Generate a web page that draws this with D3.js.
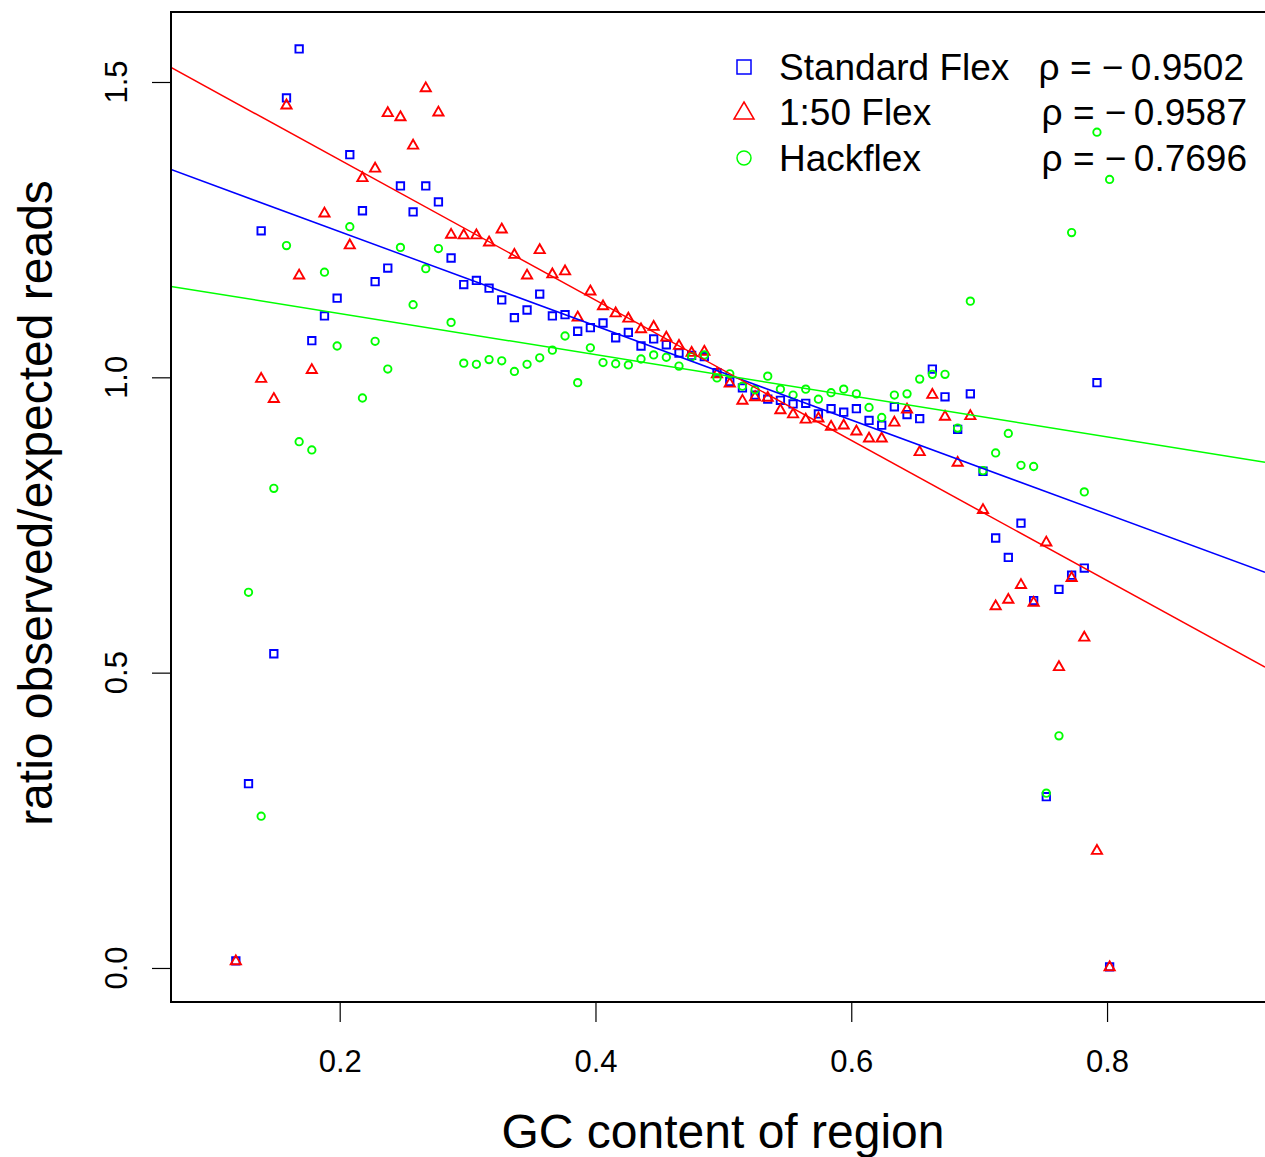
<!DOCTYPE html>
<html lang="en">
<head>
<meta charset="UTF-8">
<title>GC content vs observed/expected reads</title>
<script src="https://d3js.org/d3.v7.min.js"></script>
<style>
  body { margin: 0; background: #fff; }
  svg { display: block; font-family: "Liberation Sans", Arial, Helvetica, sans-serif; }
</style>
</head>
<body>
<svg width="1265" height="1157"></svg>
<script>
// GC content of each region (x)
const gc = [0.1188, 0.1287, 0.1386, 0.1485, 0.1584, 0.1683, 0.1782, 0.1881, 0.1980, 0.2079,
            0.2178, 0.2277, 0.2376, 0.2475, 0.2574, 0.2673, 0.2772, 0.2871, 0.2970, 0.3069,
            0.3168, 0.3267, 0.3366, 0.3465, 0.3564, 0.3663, 0.3762, 0.3861, 0.3960, 0.4059,
            0.4158, 0.4257, 0.4356, 0.4455, 0.4554, 0.4653, 0.4752, 0.4851, 0.4950, 0.5050,
            0.5149, 0.5248, 0.5347, 0.5446, 0.5545, 0.5644, 0.5743, 0.5842, 0.5941, 0.6040,
            0.6139, 0.6238, 0.6337, 0.6436, 0.6535, 0.6634, 0.6733, 0.6832, 0.6931, 0.7030,
            0.7129, 0.7228, 0.7327, 0.7426, 0.7525, 0.7624, 0.7723, 0.7822, 0.7921, 0.8020];

// ratio observed/expected reads, one per gc value (null = no point)
const standardFlex = [0.012, 0.312, 1.248, 0.532, 1.473, 1.556, 1.062, 1.104, 1.134, 1.377,
                      1.282, 1.162, 1.185, 1.324, 1.280, 1.324, 1.297, 1.202, 1.157, 1.164,
                      1.151, 1.131, 1.101, 1.114, 1.141, 1.104, 1.106, 1.078, 1.084, 1.092,
                      1.067, 1.076, 1.053, 1.065, 1.055, 1.041, 1.037, 1.035, 1.008, 0.993,
                      0.982, 0.970, 0.963, 0.961, 0.955, 0.956, 0.938, 0.947, 0.941, 0.947,
                      0.927, 0.919, 0.950, 0.937, 0.930, 1.014, 0.967, 0.912, 0.972, 0.841,
                      0.728, 0.695, 0.753, 0.622, 0.290, 0.641, 0.665, 0.677, 0.991, 0.002];

const flex150 = [0.012, null, 0.998, 0.964, 1.461, 1.173, 1.013, 1.278, null, 1.224,
                 1.338, 1.354, 1.448, 1.441, 1.393, 1.490, 1.449, 1.242, 1.241, 1.241,
                 1.229, 1.251, 1.208, 1.173, 1.216, 1.175, 1.180, 1.102, 1.146, 1.121,
                 1.109, 1.100, 1.082, 1.086, 1.068, 1.054, 1.042, 1.044, 1.006, 0.990,
                 0.961, 0.967, 0.966, 0.945, 0.938, 0.929, 0.931, 0.917, 0.919, 0.909,
                 0.897, 0.897, 0.924, 0.946, 0.874, 0.971, 0.934, 0.856, 0.935, 0.776,
                 0.613, 0.624, 0.649, 0.619, 0.721, 0.510, 0.661, 0.560, 0.199, 0.002];

const hackflex = [null, 0.636, 0.257, 0.812, 1.223, 0.891, 0.877, 1.178, 1.053, 1.255,
                  0.965, 1.061, 1.014, 1.220, 1.123, 1.184, 1.218, 1.093, 1.024, 1.022,
                  1.030, 1.028, 1.010, 1.022, 1.033, 1.046, 1.070, 0.991, 1.050, 1.025,
                  1.023, 1.021, 1.031, 1.038, 1.034, 1.019, 1.035, 1.038, 0.999, 1.006,
                  0.985, 0.979, 1.002, 0.980, 0.970, 0.980, 0.963, 0.974, 0.980, 0.972,
                  0.949, 0.932, 0.970, 0.972, 0.997, 1.005, 1.005, 0.914, 1.129, 0.842,
                  0.872, 0.905, 0.851, 0.849, 0.296, 0.393, 1.245, 0.806, 1.415, 1.335];

// fitted lines (intercept, slope) and legend text
const seriesNames = ["Standard Flex", "1:50 Flex", "Hackflex"];
const seriesColors = ["#0000ff", "#ff0000", "#00ff00"];
const fitIntercept = [1.406, 1.6055, 1.1776];
const fitSlope = [-0.797, -1.187, -0.348];
const rhoLabels = ["ρ = \u2212\u20090.9502", "ρ = \u2212\u20090.9587", "ρ = \u2212\u20090.7696"];
const xTicks = [0.2, 0.4, 0.6, 0.8];
const yTicks = [0.0, 0.5, 1.0, 1.5];

const plotLeft = 171, plotTop = 12, plotRight = 1265, plotBottom = 1002;
const svg = d3.select("svg");

const x = d3.scaleLinear().domain([0.0681, 0.9235]).range([plotLeft, plotRight]);
const y = d3.scaleLinear().domain([-0.0576, 1.6185]).range([plotBottom, plotTop]);

svg.append("defs").append("clipPath").attr("id", "plotclip")
  .append("rect").attr("x", plotLeft).attr("y", plotTop)
  .attr("width", plotRight - plotLeft).attr("height", plotBottom - plotTop);

// marker shapes: 0 square, 1 triangle, 2 circle
function drawMarker(g, kind, color, sw) {
  if (kind === 2) {
    g.append("circle").attr("r", 3.7).attr("fill", "none")
      .attr("stroke", color).attr("stroke-width", sw);
  } else {
    g.append("path").attr("d", kind === 0 ? "M-3.7,-3.7H3.7V3.7H-3.7Z" : "M0,-5.5L5.1,3.4H-5.1Z")
      .attr("fill", "none").attr("stroke", color).attr("stroke-width", sw);
  }
}

const allSeries = [standardFlex, flex150, hackflex];
const plot = svg.append("g").attr("clip-path", "url(#plotclip)");

allSeries.forEach((vals, i) => {
  const pts = gc.map((g, j) => [g, vals[j]]).filter(p => p[1] !== null);
  pts.forEach(p => {
    const g = plot.append("g").attr("transform", `translate(${x(p[0])},${y(p[1])})`);
    drawMarker(g, i, seriesColors[i], 1.9);
  });
});

// regression lines
allSeries.forEach((vals, i) => {
  const x0 = x.domain()[0], x1 = x.domain()[1];
  plot.append("line")
    .attr("x1", x(x0)).attr("y1", y(fitIntercept[i] + fitSlope[i] * x0))
    .attr("x2", x(x1)).attr("y2", y(fitIntercept[i] + fitSlope[i] * x1))
    .attr("stroke", seriesColors[i]).attr("stroke-width", 1.5);
});

// box
svg.append("rect").attr("x", plotLeft).attr("y", plotTop)
  .attr("width", plotRight - plotLeft + 10).attr("height", plotBottom - plotTop)
  .attr("fill", "none").attr("stroke", "#000").attr("stroke-width", 2);

// x axis
const xAxis = svg.append("g").attr("transform", `translate(0,${plotBottom})`)
  .call(d3.axisBottom(x).tickValues(xTicks).tickSize(20).tickPadding(28)
    .tickFormat(d3.format(".1f")));
xAxis.select(".domain").remove();
xAxis.selectAll("line").attr("stroke", "#000").attr("stroke-width", 1.2);
xAxis.selectAll("text").attr("font-size", 31).attr("font-family", null).attr("fill", "#000");

// y axis
const yAxis = svg.append("g").attr("transform", `translate(${plotLeft},0)`)
  .call(d3.axisLeft(y).tickValues(yTicks).tickSize(19).tickFormat(""));
yAxis.select(".domain").remove();
yAxis.selectAll("line").attr("stroke", "#000").attr("stroke-width", 1.2);
svg.selectAll(".ylab").data(yTicks).join("text")
  .attr("class", "ylab")
  .attr("transform", d => `translate(127,${y(d)}) rotate(-90)`)
  .attr("text-anchor", "middle").attr("font-size", 31)
  .text(d => d3.format(".1f")(d));

// axis titles
svg.append("text").attr("x", 723).attr("y", 1148)
  .attr("text-anchor", "middle").attr("font-size", 48)
  .text("GC content of region");
svg.append("text")
  .attr("transform", `translate(52,${(plotTop + plotBottom) / 2 - 4}) rotate(-90)`)
  .attr("text-anchor", "middle").attr("font-size", 48)
  .text("ratio observed/expected reads");

// legend
const legendY = [67, 112, 158];
const rhoRight = [1244, 1247, 1247];
seriesNames.forEach((name, i) => {
  const g = svg.append("g").attr("transform", `translate(744,${legendY[i]})`);
  if (i === 0) {
    g.append("rect").attr("x", -7).attr("y", -7).attr("width", 14).attr("height", 14)
      .attr("fill", "none").attr("stroke", seriesColors[i]).attr("stroke-width", 1.5);
  } else if (i === 1) {
    g.append("path").attr("d", "M0,-10L10,7H-10Z")
      .attr("fill", "none").attr("stroke", seriesColors[i]).attr("stroke-width", 1.5);
  } else {
    g.append("circle").attr("r", 7)
      .attr("fill", "none").attr("stroke", seriesColors[i]).attr("stroke-width", 1.5);
  }
  svg.append("text").attr("x", 779).attr("y", legendY[i] + 13)
    .attr("font-size", 37).text(name);
  svg.append("text").attr("x", rhoRight[i]).attr("y", legendY[i] + 13)
    .attr("text-anchor", "end").attr("font-size", 37).text(rhoLabels[i]);
});
</script>
</body>
</html>
